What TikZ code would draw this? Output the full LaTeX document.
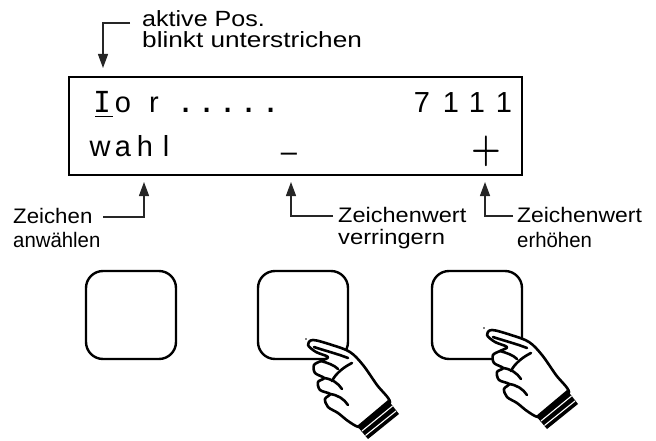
\documentclass[tikz,border=0pt]{standalone}
\usepackage{fontspec}
\setmainfont{Liberation Sans}
\newfontfamily\lcdmono{DejaVu Sans Mono}
\newfontfamily\lmfont{Latin Modern Roman}
\usetikzlibrary{arrows.meta}
\begin{document}
\begin{tikzpicture}[x=1pt,y=-1pt,
  lbl/.style={anchor=base west, inner sep=0, font=\fontsize{21}{21}\selectfont},
  toplbl/.style={anchor=base west, inner sep=0, font=\fontsize{22}{22}\selectfont},
  lcd/.style={anchor=base, inner sep=0, font=\fontsize{29}{29}\selectfont},
  lcddot/.style={anchor=base, inner sep=0, font=\fontsize{40}{40}\selectfont},
  pointer/.style={draw=black!85, line width=1.3pt, -{Triangle[length=14pt,width=10pt]}},
  key/.style={draw, line width=2.4pt, rounded corners=17pt, minimum width=90pt,
              minimum height=88pt, inner sep=0},
  handline/.style={line width=2.6pt, line join=round, line cap=round},
  pics/presshand/.style={code={
    % outline of the fist with the stretched index finger (tip at the origin)
    \draw[handline, fill=white] plot[smooth cycle, tension=0.55] coordinates {
      (0,0) (5,-5) (24,0) (42,7) (55,20) (69,40) (82,57)
      (72,68) (60,78) (51,82) (40,76) (30,68)
      (20,62) (17,54) (22,49) (12,45) (10,37) (16,33)
      (7,28) (6,20) (13,16) (20,12) (8,7)};
    % finger crease, thumb and knuckle lines
    \draw[handline] (6,2) .. controls (18,6) and (30,9) .. (40,13);
    \draw[handline] (44,18) .. controls (36,22) and (28,28) .. (24,36);
    \draw[handline] (16,33) .. controls (24,34) and (30,38) .. (34,44);
    \draw[handline] (22,49) .. controls (30,50) and (36,54) .. (40,60);
    \draw[handline] (13,16) .. controls (20,18) and (26,20) .. (30,24);
    % cuff
    \fill[black] (80,55) -- (91,69) -- (60,94) -- (49,81) -- cycle;
    \draw[white, line width=1.1pt] (84.5,61) -- (54,86);
    \draw[white, line width=1.1pt] (88,66) -- (57.5,90.5);
  }}]
\useasboundingbox (0,0) rectangle (656,441);

% display frame
\node[draw, line width=2.4pt, minimum width=453pt, minimum height=98pt,
      inner sep=0, anchor=north west] (lcd) at (68,76) {};

% first display line
\node[lcd, font=\lcdmono\fontsize{29}{29}\selectfont] (cI) at (102,113) {I};
\draw[line width=1.6pt] (95,116.5) -- (113,116.5);
\foreach \ch/\x [count=\i] in {o/123, r/154, 7/422, 1/451, 1/477, 1/504}
  \node[lcd] (ra\i) at (\x,113) {\ch};
\foreach \x [count=\i] in {186,207,228,249,271}
  \node[lcddot] (rd\i) at (\x,113) {.};

% second display line
\foreach \ch/\x [count=\i] in {w/100, a/123, h/145, l/166}
  \node[lcd] (rb\i) at (\x,157) {\ch};
\node[lcd] (minus) at (289,161) {–};
\node[inner sep=0, font=\lmfont\bfseries\fontsize{34}{34}\selectfont] (plus) at (486,151)
  {\scalebox{1}[1.2]{+}};

% notes and pointers
\node[toplbl] (n0a) at (142,27) {\scalebox{1.14}[1]{aktive Pos.}};
\node[toplbl] (n0b) at (142,48) {\scalebox{1.19}[1]{blinkt unterstrichen}};
\coordinate (s0) at (130,23);
\coordinate (t0) at (103,68);
\draw[pointer] (s0) -| (t0);

\node[lbl] (n1a) at (13,223) {\scalebox{1.06}[1]{Zeichen}};
\node[lbl] (n1b) at (13,247) {\scalebox{0.97}[1]{anwählen}};
\node[lbl] (n2a) at (338,222) {\scalebox{1.12}[1]{Zeichenwert}};
\node[lbl] (n2b) at (338,244) {\scalebox{1.13}[1]{verringern}};
\node[lbl] (n3a) at (517,222) {\scalebox{1.09}[1]{Zeichenwert}};
\node[lbl] (n3b) at (517,247) {\scalebox{0.97}[1]{erhöhen}};

\coordinate (s1) at (103,217);  \coordinate (t1) at (144,182);
\coordinate (s2) at (333,216);  \coordinate (t2) at (291,182);
\coordinate (s3) at (513,216);  \coordinate (t3) at (485,182);
\draw[pointer] (s1) -| (t1);
\draw[pointer] (s2) -| (t2);
\draw[pointer] (s3) -| (t3);

% keys
\node[key] (k1) at (131,315) {};
\node[key] (k2) at (303,315) {};
\node[key] (k3) at (477,315) {};

% pressing hands
\pic (h2) at (308,345) {presshand};
\pic (h3) at (487,335) {presshand};
\fill (306,339) circle (0.8);
\fill (484,328) circle (0.8);
\end{tikzpicture}
\end{document}
